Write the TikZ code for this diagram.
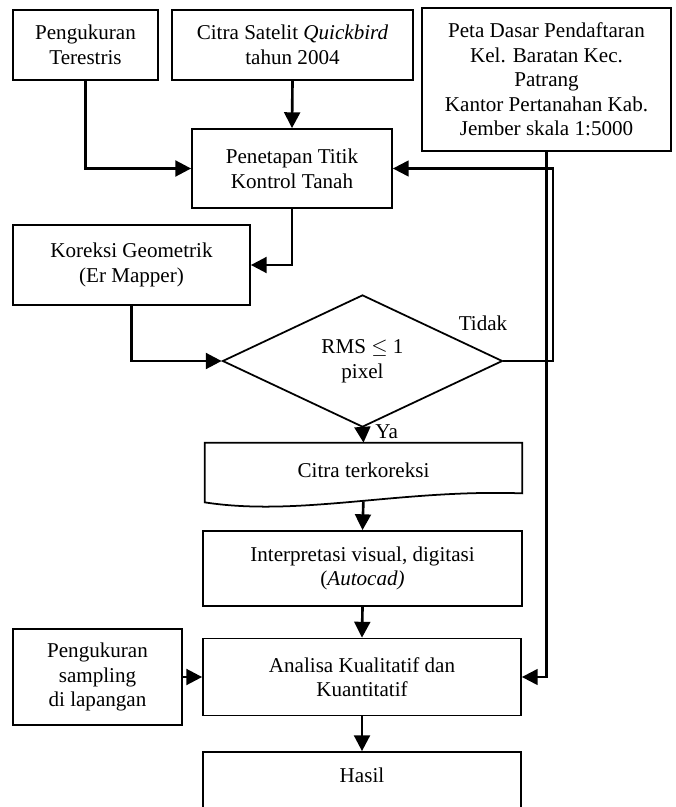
\documentclass[tikz,border=0pt]{standalone}
\usepackage{fontspec}
\setmainfont{Liberation Serif}
\usetikzlibrary{arrows.meta,shapes.geometric}
\begin{document}
\begin{tikzpicture}[auto,
  box/.style={draw, rectangle, line width=1pt, align=center, inner sep=2pt,
              font=\fontsize{12}{14}\selectfont},
  decision/.style={draw, diamond, line width=1pt, align=center, inner sep=1pt,
              font=\fontsize{12}{14}\selectfont},
  arr/.style={line width=1.5pt, -{Triangle[length=9pt,width=9pt]}}]
\useasboundingbox (0,0) rectangle (13.52,-16.14);
\clip (0,0) rectangle (13.52,-16.14);
% input boxes
\node[box, minimum width=2.90cm, minimum height=1.40cm](terestris) at (1.71,-0.90) {Pengukuran\\Terestris};
\node[box, minimum width=4.82cm, minimum height=1.40cm](citra) at (5.85,-0.90) {Citra Satelit \textit{Quickbird}\\tahun 2004};
\node[box, minimum width=4.98cm, minimum height=2.86cm](peta) at (10.93,-1.59) {Peta Dasar Pendaftaran\\Kel. Baratan Kec.\\Patrang\\Kantor Pertanahan Kab.\\Jember skala 1:5000};
% process
\node[box, minimum width=4.00cm, minimum height=1.58cm](gcp) at (5.84,-3.37) {Penetapan Titik\\Kontrol Tanah};
\node[box, minimum width=4.74cm, minimum height=1.60cm](koreksi) at (2.63,-5.30) {Koreksi Geometrik\\(Er Mapper)};
\node[decision, minimum width=5.60cm, minimum height=2.32cm](rms) at (7.25,-7.22) {RMS $\leq$ 1\\pixel};
\node[font=\fontsize{12}{14}\selectfont](tidak) at (9.66,-6.46) {Tidak};
\node[align=center, font=\fontsize{12}{14}\selectfont, minimum width=6.34cm, minimum height=1.08cm, inner sep=0pt](terkoreksi) at (7.27,-9.40) {Citra terkoreksi};
\draw[line width=1pt] (terkoreksi.north west) -- (terkoreksi.north east)
  -- ([yshift=0.08cm]terkoreksi.south east) .. controls (8.00,-9.78) and (6.00,-10.34) .. ([yshift=-0.10cm]terkoreksi.south west) -- cycle;
\node[box, minimum width=6.38cm, minimum height=1.50cm](interp) at (7.25,-11.37) {Interpretasi visual, digitasi\\(\textit{Autocad)}};
\node[box, minimum width=6.36cm, minimum height=1.54cm](analisa) at (7.24,-13.54) {Analisa Kualitatif dan\\Kuantitatif};
\node[box, minimum width=3.38cm, minimum height=1.92cm](sampling) at (1.95,-13.54) {Pengukuran\\sampling\\di lapangan};
\node[box, minimum width=6.36cm, minimum height=1.40cm](hasil) at (7.24,-15.74) {Hasil\\\phantom{H}};
% connectors
\draw[arr] (terestris.south) |- (gcp.west);
\draw[arr] (citra.south) -- (gcp.north);
\draw[arr] (gcp.south) |- (koreksi.east);
\draw[arr] (koreksi.south) |- (rms.west);
\draw[arr, line width=1.2pt] (rms.east) -- ++(1.0,0) |- (gcp.east);
\draw[arr, line width=1.2pt] (peta.south) |- (analisa.east);
\draw[arr] (rms.south) -- (terkoreksi.north) node[midway, right, xshift=3pt, yshift=2pt] {\fontsize{12}{14}\selectfont Ya};
\draw[arr, shorten <=0.08cm] (terkoreksi.south) -- (interp.north);
\draw[arr] (interp.south) -- (analisa.north);
\draw[arr] (sampling.east) -- (analisa.west);
\draw[arr] (analisa.south) -- (hasil.north);
\end{tikzpicture}
\end{document}
